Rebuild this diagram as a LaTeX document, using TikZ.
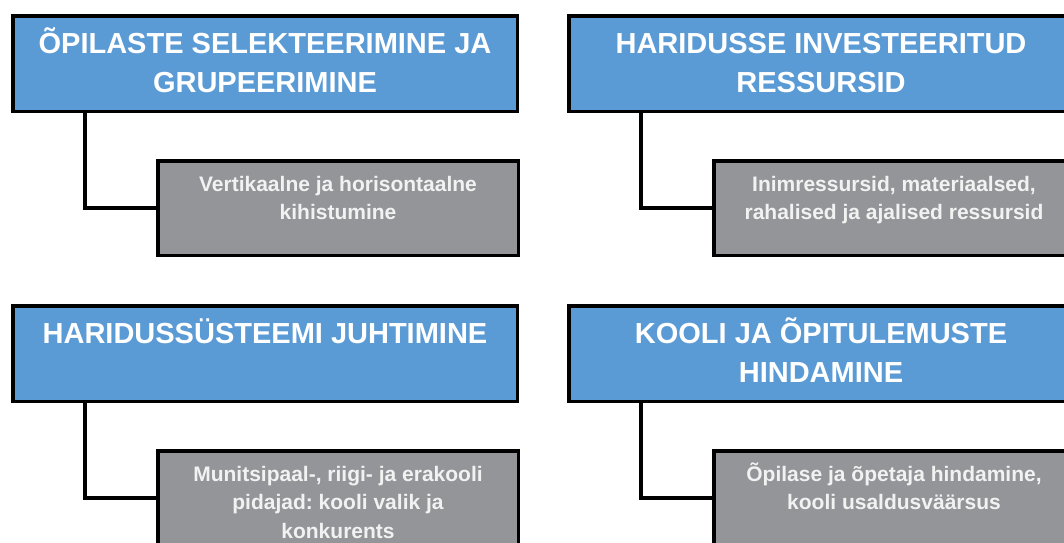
\documentclass[tikz,border=0pt]{standalone}
\usepackage{fontspec}
\setmainfont{Liberation Sans}
\frenchspacing

\definecolor{headblue}{HTML}{5B9BD5}
\definecolor{subgray}{HTML}{939598}
\definecolor{subink}{HTML}{F2F2F2}

% heading box: 508 x 99 outer, text hung from the top
\newcommand{\headcontent}[1]{%
  \parbox[t][95.5pt][t]{504.5pt}{\centering\fontsize{29}{39}\selectfont\bfseries
    \rule{0pt}{37.5pt}#1}}
% detail box: 364 x 98 outer
\newcommand{\subcontent}[1]{%
  \parbox[t][94.5pt][t]{360.5pt}{\centering\fontsize{21}{28.5}\selectfont\bfseries
    \rule{0pt}{30.25pt}#1}}

\tikzset{
  headbox/.style={rectangle, draw=black, line width=3.5pt, fill=headblue,
    text=white, inner sep=0pt, outer sep=0pt, anchor=north west},
  subbox/.style={rectangle, draw=black, line width=3.5pt, fill=subgray,
    text=subink, inner sep=0pt, outer sep=0pt, anchor=north west},
  conn/.style={draw=black, line width=3.3pt, line join=miter}
}

\begin{document}
\begin{tikzpicture}[x=1pt, y=-1pt]
\useasboundingbox (0,0) rectangle (1064,542);
\fill[white] (0,0) rectangle (1064,542);
\clip (0,0) rectangle (1064,542);

% top row
\node[headbox] (b1) at (12.75,15.75)  {\headcontent{ÕPILASTE SELEKTEERIMINE JA\\GRUPEERIMINE}};
\node[headbox] (b2) at (568.75,15.75) {\headcontent{HARIDUSSE INVESTEERITUD\\RESSURSID}};
\node[subbox]  (g1) at (157.75,160.75) {\subcontent{Vertikaalne ja horisontaalne\\kihistumine}};
\node[subbox]  (g2) at (713.75,160.75) {\subcontent{Inimressursid, materiaalsed,\\rahalised ja ajalised ressursid}};

% bottom row
\node[headbox] (b3) at (12.75,305.75)  {\headcontent{HARIDUSSÜSTEEMI JUHTIMINE}};
\node[headbox] (b4) at (568.75,305.75) {\headcontent{KOOLI JA ÕPITULEMUSTE\\HINDAMINE}};
\node[subbox]  (g3) at (157.75,450.75) {\subcontent{Munitsipaal-, riigi- ja erakooli\\pidajad: kooli valik ja\\konkurents}};
\node[subbox]  (g4) at (713.75,450.75) {\subcontent{Õpilase ja õpetaja hindamine,\\kooli usaldusväärsus}};

% elbow connectors from each heading down to its detail box
\draw[conn] ([xshift=72.25pt]b1.south west) |- (g1.west);
\draw[conn] ([xshift=72.25pt]b2.south west) |- (g2.west);
\draw[conn] ([xshift=72.25pt]b3.south west) |- (g3.west);
\draw[conn] ([xshift=72.25pt]b4.south west) |- (g4.west);
\end{tikzpicture}
\end{document}
